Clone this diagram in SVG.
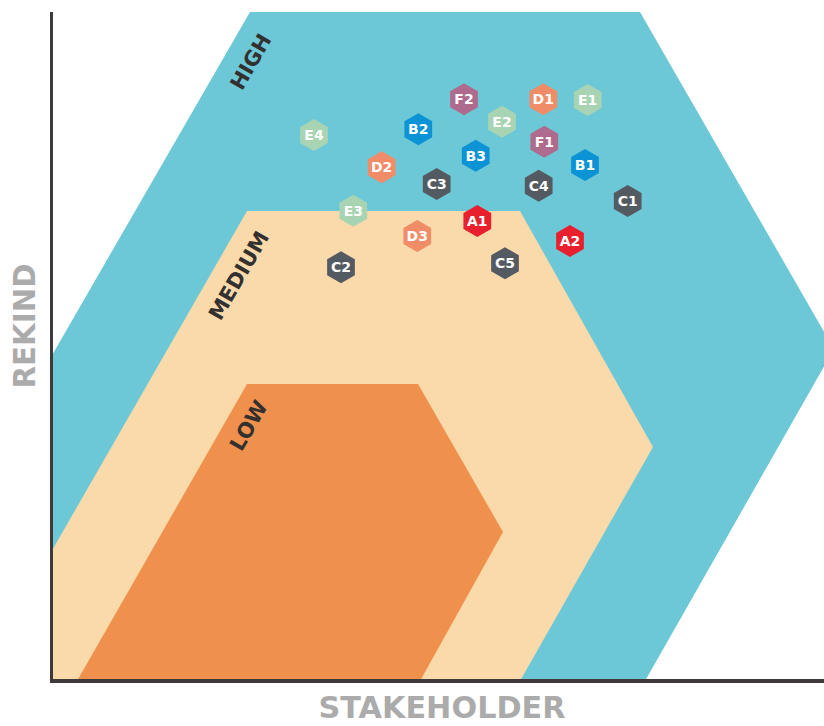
<svg xmlns="http://www.w3.org/2000/svg" xmlns:xlink="http://www.w3.org/1999/xlink" width="824" height="726" viewBox="0 0 824 726">
<style>
.lbl{font-family:"DejaVu Sans","Liberation Sans",sans-serif;font-weight:bold;font-size:14px;fill:#ffffff;text-anchor:middle}
.zone{font-family:"DejaVu Sans","Liberation Sans",sans-serif;font-weight:bold;font-size:21px;fill:#333030;text-anchor:middle}
.axis{font-family:"DejaVu Sans","Liberation Sans",sans-serif;font-weight:bold;font-size:31px;fill:#ababab;text-anchor:middle}
.A{fill:#e8202e}.B{fill:#0b93d5}.C{fill:#545a61}.D{fill:#f08d68}.E{fill:#a8d4b3}.F{fill:#ae6b8d}
</style>
<defs>
<polygon id="hex" points="0,-16 13.86,-8 13.86,8 0,16 -13.86,8 -13.86,-8"/>
<clipPath id="plot"><rect x="51" y="0" width="773" height="681"/></clipPath>
</defs>
<rect width="824" height="726" fill="#ffffff"/>
<g id="zones" clip-path="url(#plot)">
<polygon id="high-zone" fill="#6cc8d6" points="250,12 640,12 834,349 645,681 -136,681"/>
<polygon id="medium-zone" fill="#fad9aa" points="247,211 520,211 653,447 520,681 -23,681"/>
<polygon id="low-zone" fill="#f0904d" points="247,384 418,384 503,532 420,681 77,681"/>
</g>
<g id="zone-labels">
<text class="zone" transform="translate(250.5,61.7) rotate(-60)" dy="7.5">HIGH</text>
<text class="zone" transform="translate(238.5,275.5) rotate(-60)" dy="7.5">MEDIUM</text>
<text class="zone" transform="translate(248.5,425.5) rotate(-60)" dy="7.5">LOW</text>
</g>
<g id="axes">
<line x1="51.5" y1="12" x2="51.5" y2="683" stroke="#3f3a3a" stroke-width="3"/>
<line x1="50" y1="681" x2="824" y2="681" stroke="#3f3a3a" stroke-width="4"/>
<text class="axis" transform="translate(23.5,326) rotate(-90)" dy="11.5" textLength="125" lengthAdjust="spacingAndGlyphs">REKIND</text>
<text class="axis" x="442" y="718" textLength="247" lengthAdjust="spacingAndGlyphs">STAKEHOLDER</text>
</g>
<g id="connectors"></g>
<g id="node-F2"><use xlink:href="#hex" x="464" y="99.3" class="F"/><text class="lbl" x="464" y="104.3">F2</text></g>
<g id="node-D1"><use xlink:href="#hex" x="543.3" y="99.3" class="D"/><text class="lbl" x="543.3" y="104.3">D1</text></g>
<g id="node-E1"><use xlink:href="#hex" x="587.7" y="100" class="E"/><text class="lbl" x="587.7" y="105">E1</text></g>
<g id="node-E2"><use xlink:href="#hex" x="502" y="121.7" class="E"/><text class="lbl" x="502" y="126.7">E2</text></g>
<g id="node-B2"><use xlink:href="#hex" x="418.3" y="129.3" class="B"/><text class="lbl" x="418.3" y="134.3">B2</text></g>
<g id="node-E4"><use xlink:href="#hex" x="314" y="135" class="E"/><text class="lbl" x="314" y="140">E4</text></g>
<g id="node-F1"><use xlink:href="#hex" x="544.3" y="141.7" class="F"/><text class="lbl" x="544.3" y="146.7">F1</text></g>
<g id="node-B3"><use xlink:href="#hex" x="475.7" y="155.7" class="B"/><text class="lbl" x="475.7" y="160.7">B3</text></g>
<g id="node-D2"><use xlink:href="#hex" x="381.7" y="167.3" class="D"/><text class="lbl" x="381.7" y="172.3">D2</text></g>
<g id="node-B1"><use xlink:href="#hex" x="585" y="165" class="B"/><text class="lbl" x="585" y="170">B1</text></g>
<g id="node-C3"><use xlink:href="#hex" x="436.7" y="184" class="C"/><text class="lbl" x="436.7" y="189">C3</text></g>
<g id="node-C4"><use xlink:href="#hex" x="538.7" y="185.7" class="C"/><text class="lbl" x="538.7" y="190.7">C4</text></g>
<g id="node-C1"><use xlink:href="#hex" x="627.7" y="201" class="C"/><text class="lbl" x="627.7" y="206">C1</text></g>
<g id="node-E3"><use xlink:href="#hex" x="353.3" y="210.7" class="E"/><text class="lbl" x="353.3" y="215.7">E3</text></g>
<g id="node-A1"><use xlink:href="#hex" x="477.3" y="221" class="A"/><text class="lbl" x="477.3" y="226">A1</text></g>
<g id="node-D3"><use xlink:href="#hex" x="417.3" y="236" class="D"/><text class="lbl" x="417.3" y="241">D3</text></g>
<g id="node-A2"><use xlink:href="#hex" x="570" y="241" class="A"/><text class="lbl" x="570" y="246">A2</text></g>
<g id="node-C5"><use xlink:href="#hex" x="505" y="263.3" class="C"/><text class="lbl" x="505" y="268.3">C5</text></g>
<g id="node-C2"><use xlink:href="#hex" x="341" y="267.3" class="C"/><text class="lbl" x="341" y="272.3">C2</text></g>
</svg>
